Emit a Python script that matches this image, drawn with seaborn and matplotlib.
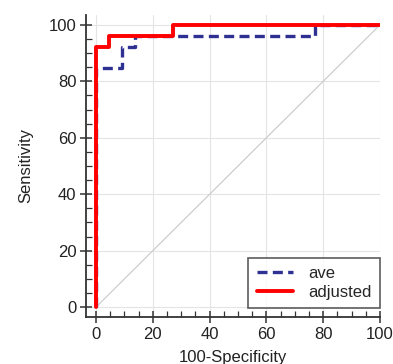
import matplotlib
matplotlib.use("Agg")
import matplotlib.pyplot as plt
import seaborn as sns
import numpy as np
from matplotlib.ticker import MultipleLocator

sns.set_theme(style="white")
plt.rcParams['font.family'] = ['Liberation Sans', 'DejaVu Sans']

# ROC points (100-Specificity, Sensitivity)
ave_fpr = [0, 0, 9.09, 13.64, 77.27, 100]
ave_tpr = [0, 84.62, 92.31, 96.15, 100, 100]
adj_fpr = [0, 0, 4.55, 27.27, 100]
adj_tpr = [0, 92.31, 96.15, 100, 100]
diag = [0, 100]
ticks = [0, 20, 40, 60, 80, 100]

fig = plt.figure(figsize=(3.93, 3.64), dpi=100)
ax = fig.add_axes([0.219, 0.129, 0.748, 0.830])

ax.plot(diag, diag, color="#c8c8c8", lw=0.8, zorder=1)
sns.lineplot(x=ave_fpr, y=ave_tpr, ax=ax, color="#2e3192", lw=2.4,
             linestyle=(0, (3.0, 1.6)), drawstyle="steps-post",
             estimator=None, sort=False, label="ave", zorder=3)
sns.lineplot(x=adj_fpr, y=adj_tpr, ax=ax, color="#ff0000", lw=2.8,
             drawstyle="steps-post", estimator=None, sort=False,
             label="adjusted", zorder=4)

ax.set_xlim(-3.5, 100)
ax.set_ylim(-3.5, 103.5)
ax.set_xticks(ticks)
ax.set_yticks(ticks)
ax.xaxis.set_minor_locator(MultipleLocator(5))
ax.yaxis.set_minor_locator(MultipleLocator(5))
ax.grid(True, which="major", color="#e4e4e4", lw=0.8)
ax.set_axisbelow(True)

for s in ["top", "right"]:
    ax.spines[s].set_visible(False)
for s in ["left", "bottom"]:
    ax.spines[s].set_color("#333333")
    ax.spines[s].set_linewidth(1.3)

ax.tick_params(which="major", direction="inout", length=8, width=1.1,
               color="#333333", labelsize=12, labelcolor="#222222",
               left=True, bottom=True, pad=3)
ax.tick_params(which="minor", direction="in", length=4, width=0.9,
               color="#333333", left=True, bottom=True)

ax.set_xlabel("100-Specificity", fontsize=12, color="#222222", labelpad=6)
ax.set_ylabel("Sensitivity", fontsize=12, color="#222222", labelpad=11)

leg = ax.legend(loc="lower right", bbox_to_anchor=(1.0, 0.03), fontsize=12,
                frameon=True, fancybox=False, edgecolor="#333333",
                borderpad=0.5, handlelength=2.2, handletextpad=0.9,
                labelspacing=0.2, borderaxespad=0.0)
leg.get_frame().set_linewidth(1.2)

fig.savefig("out.png", dpi=100)
